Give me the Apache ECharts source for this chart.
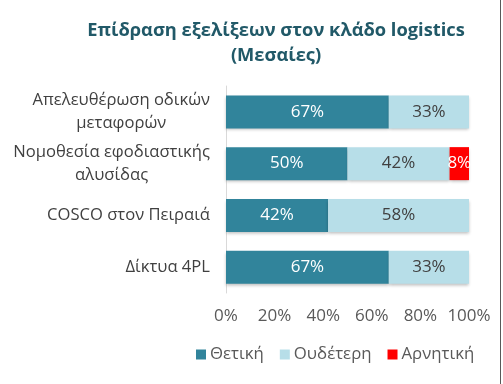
<!DOCTYPE html>
<html>
<head>
<meta charset="utf-8">
<script src="https://cdn.jsdelivr.net/npm/echarts@6/dist/echarts.min.js"></script>
<style>html,body{margin:0;padding:0;background:#fff;}#c{width:503px;height:384px;}</style>
</head>
<body>
<div id="c"></div>
<script>
const categories = ['Απελευθέρωση οδικών\nμεταφορών', 'Νομοθεσία εφοδιαστικής\nαλυσίδας', 'COSCO στον Πειραιά', 'Δίκτυα 4PL'];
const positive = [67, 50, 42, 67];
const neutral = [33, 42, 58, 33];
const negative = [0, 8, 0, 0];
const xTicks = [0, 20, 40, 60, 80, 100];

const FONT = 'Open Sans';
const chart = echarts.init(document.getElementById('c'));
const shadow = {shadowBlur: 3, shadowColor: 'rgba(0,0,0,0.25)', shadowOffsetY: 2};
function lbl(color) {
  return {show: true, position: 'inside', color: color, fontFamily: FONT, fontSize: 17,
    formatter: p => p.value ? p.value + '%' : ''};
}
chart.setOption({
  animation: false,
  title: {
    text: 'Επίδραση εξελίξεων στον κλάδο logistics\n(Μεσαίες)',
    left: 271, top: 13, textAlign: 'center',
    textStyle: {fontFamily: FONT, fontSize: 18.3, fontWeight: 'bold', color: '#215968', lineHeight: 25}
  },
  legend: {
    left: 191, top: 341, itemWidth: 10, itemHeight: 10, itemGap: 16, icon: 'rect',
    textStyle: {fontFamily: FONT, fontSize: 16.8, color: '#595959', padding: [0, 0, 0, -1]},
    data: ['Θετική', 'Ουδέτερη', 'Αρνητική']
  },
  grid: {left: 226, right: 34, top: 86, bottom: 91, containLabel: false},
  xAxis: {
    type: 'value', min: 0, max: 100, interval: 20,
    axisLine: {show: false}, axisTick: {show: false}, splitLine: {show: false},
    axisLabel: {fontFamily: FONT, fontSize: 17, color: '#595959', margin: 15,
      formatter: v => xTicks.includes(v) ? v + '%' : ''}
  },
  yAxis: {
    type: 'category', inverse: true, data: categories,
    axisLine: {show: true, lineStyle: {color: '#d9d9d9'}}, axisTick: {show: false},
    axisLabel: {margin: 16, align: 'right',
      formatter: v => v.split('\n').map(s => '{c|' + s + '}').join('\n'),
      rich: {c: {align: 'center', fontFamily: FONT, fontSize: 16.6, color: '#404040', lineHeight: 23}}}
  },
  series: [
    {name: 'Θετική', type: 'bar', stack: 's', data: positive, barWidth: 33,
      itemStyle: Object.assign({color: '#31849B'}, shadow), label: lbl('#ffffff')},
    {name: 'Ουδέτερη', type: 'bar', stack: 's', data: neutral, barWidth: 33,
      itemStyle: Object.assign({color: '#B7DEE8'}, shadow), label: lbl('#404040')},
    {name: 'Αρνητική', type: 'bar', stack: 's', data: negative, barWidth: 33,
      itemStyle: Object.assign({color: '#FF0000'}, shadow), label: lbl('#ffffff')}
  ],
  graphic: [{type: 'line', shape: {x1: 500.5, y1: 0, x2: 500.5, y2: 384}, style: {stroke: '#595959', lineWidth: 1}}]
});
</script>
</body>
</html>
